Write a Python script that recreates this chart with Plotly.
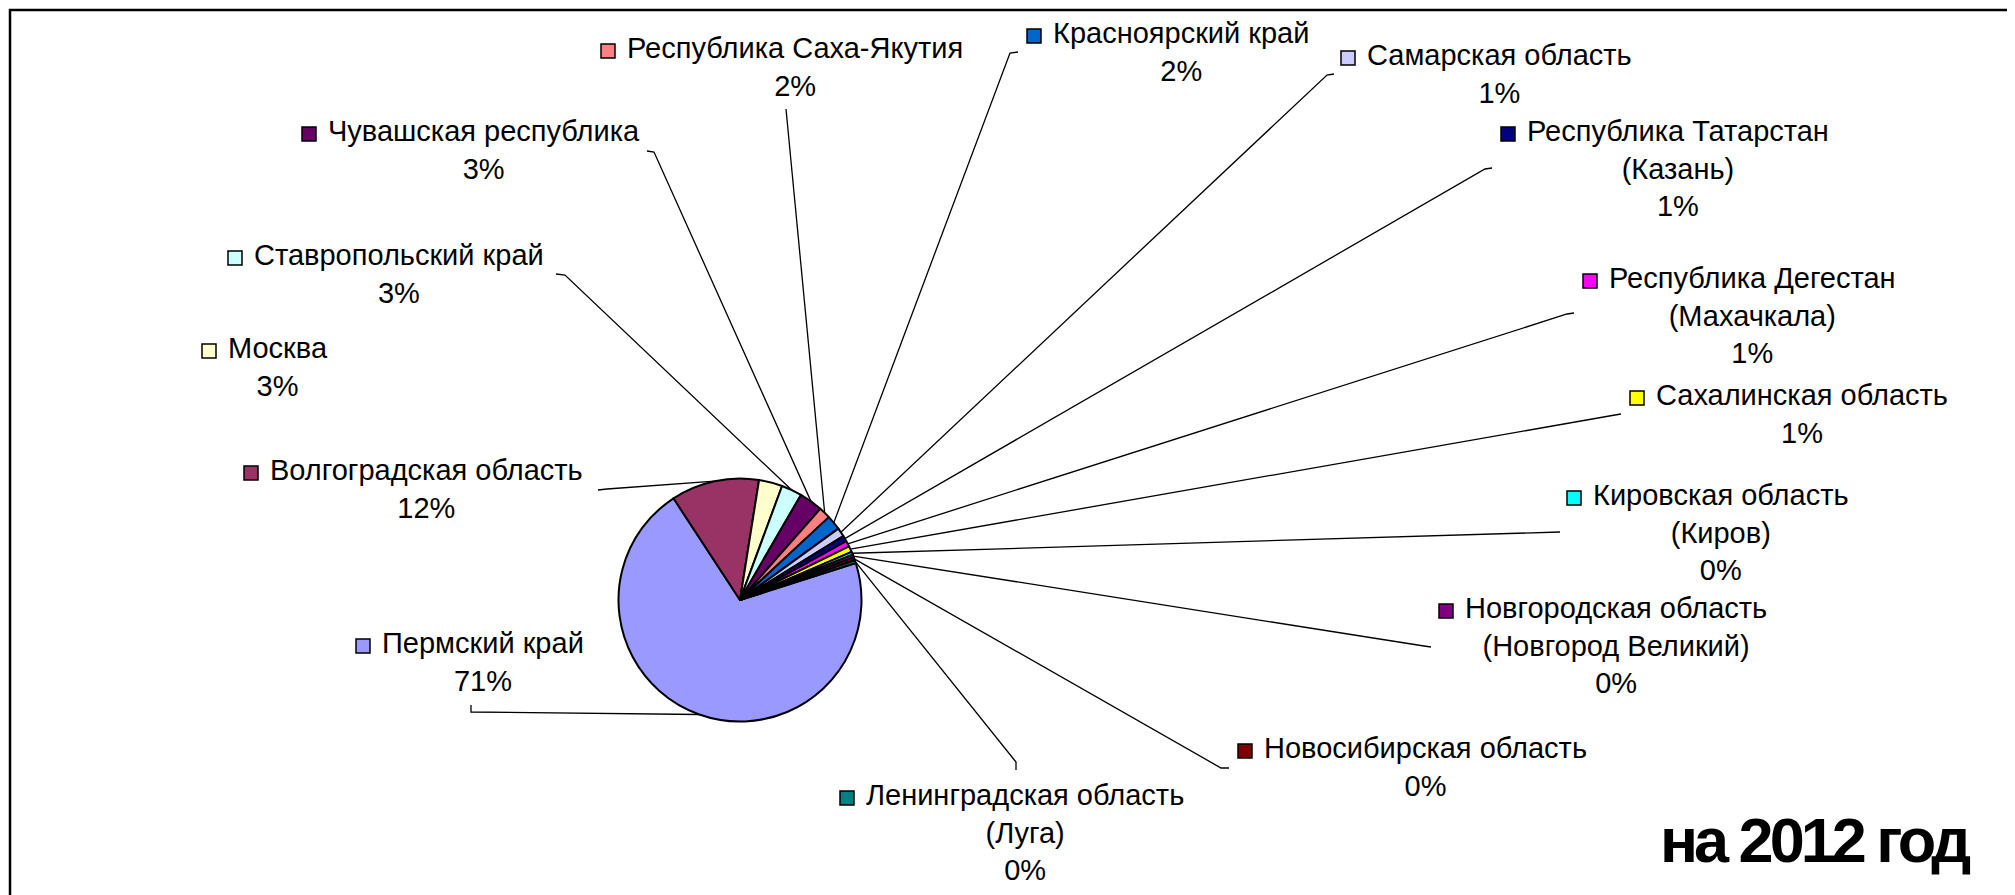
import math
import plotly.graph_objects as go

# ---------------- data ----------------
regions = [
    "Пермский край",
    "Волгоградская область",
    "Москва",
    "Ставропольский край",
    "Чувашская республика",
    "Республика Саха-Якутия",
    "Красноярский край",
    "Самарская область",
    "Республика Татарстан\n(Казань)",
    "Республика Дегестан\n(Махачкала)",
    "Сахалинская область",
    "Кировская область\n(Киров)",
    "Новгородская область\n(Новгород Великий)",
    "Новосибирская область",
    "Ленинградская область\n(Луга)",
]
counts = [181, 30, 8, 7, 8, 4, 5, 3, 2, 2, 2, 1, 1, 1, 1]
colors = [
    "#9999FF", "#993366", "#FFFFCC", "#CCFFFF", "#660066", "#FF8080",
    "#0066CC", "#CCCCFF", "#000080", "#FF00FF", "#FFFF00", "#00FFFF",
    "#800080", "#800000", "#008080",
]
year_caption = "на 2012 год"

# ---------------- layout constants (page pixels) ----------------
PAGE_W, PAGE_H = 2015, 895
OFF = 8                      # default body margin of the html page
W, H = PAGE_W - OFF, PAGE_H - OFF
PIE_CX, PIE_CY, PIE_R = 740, 600, 121.5
ROTATION = 72.3
FONT = "Liberation Sans, Arial, sans-serif"
FS = 29

# label anchor: (left x of first text line, centre y of first line)
label_pos = [
    (382, 645), (270, 472), (228, 350), (254, 257), (328, 133),
    (627, 50), (1053, 35), (1367, 57), (1527, 133), (1609, 280),
    (1656, 397), (1593, 497), (1465, 610), (1264, 750), (866, 797),
]
# leader line points on the label side (label end first), None = no leader
leader_pts = [
    [(471, 705), (471, 712)],
    [(598, 490), (607, 489)],
    None,
    [(556, 274), (565, 275)],
    [(647, 151), (654, 152)],
    [(786, 109)],
    [(1018, 52), (1010, 53)],
    [(1334, 74), (1327, 75)],
    [(1492, 168), (1485, 169)],
    [(1574, 313), (1567, 314)],
    [(1621, 414), (1615, 415)],
    [(1560, 532)],
    [(1431, 647), (1424, 646)],
    [(1229, 768), (1221, 768)],
    [(1016, 770), (1016, 762)],
]

total = sum(counts)

fig = go.Figure()

# leader lines, from label to the slice's mid-angle point on the rim
cum = 0
for i, v in enumerate(counts):
    start = ROTATION + 360.0 * cum / total
    mid = math.radians(start + 180.0 * v / total)
    cum += v
    if leader_pts[i] is None:
        continue
    px = PIE_CX + PIE_R * math.sin(mid)
    py = PIE_CY - PIE_R * math.cos(mid)
    xs = [p[0] for p in leader_pts[i]] + [px]
    ys = [p[1] for p in leader_pts[i]] + [py]
    fig.add_trace(go.Scatter(x=xs, y=ys, mode="lines",
                             line=dict(color="black", width=1.3),
                             hoverinfo="skip", showlegend=False))

fig.add_trace(go.Pie(
    labels=[r.replace("\n", " ") for r in regions],
    values=counts,
    sort=False,
    direction="clockwise",
    rotation=ROTATION,
    textinfo="none",
    marker=dict(colors=colors, line=dict(color="black", width=2)),
    domain=dict(x=[(PIE_CX - PIE_R - OFF) / W, (PIE_CX + PIE_R - OFF) / W],
                y=[1 - (PIE_CY + PIE_R - OFF) / H, 1 - (PIE_CY - PIE_R - OFF) / H]),
    showlegend=False,
))

shapes = [dict(type="rect", xref="x", yref="y", x0=10, y0=10, x1=PAGE_W + 20, y1=PAGE_H + 20,
               line=dict(color="black", width=2.5), fillcolor="rgba(0,0,0,0)", layer="above")]
annotations = []
for i, v in enumerate(counts):
    lx, ly = label_pos[i]
    pct = int(v * 100.0 / total + 0.5)
    text = regions[i].replace("\n", "<br>") + "<br>" + f"{pct}%"
    annotations.append(dict(x=lx - 2, y=ly - 20, xref="x", yref="y", text=text,
                            showarrow=False, xanchor="left", yanchor="top", align="center",
                            font=dict(family=FONT, size=FS, color="black")))
    shapes.append(dict(type="rect", xref="x", yref="y", x0=lx - 26, x1=lx - 12,
                       y0=ly - 6, y1=ly + 8, fillcolor=colors[i],
                       line=dict(color="black", width=1.5), layer="above"))

annotations.append(dict(x=1658, y=840, xref="x", yref="y",
                        text=f"<span style='letter-spacing:-4px'><b>{year_caption}</b></span>",
                        showarrow=False, xanchor="left", yanchor="middle",
                        font=dict(family="Liberation Sans Narrow, Arial Narrow, Liberation Sans, Arial",
                                  size=63, color="black")))

fig.update_layout(
    width=W, height=H,
    margin=dict(l=0, r=0, t=0, b=0),
    paper_bgcolor="white", plot_bgcolor="white",
    xaxis=dict(range=[OFF, PAGE_W], visible=False, fixedrange=True, domain=[0, 1]),
    yaxis=dict(range=[PAGE_H, OFF], visible=False, fixedrange=True, domain=[0, 1]),
    shapes=shapes, annotations=annotations,
)

fig.write_html("out.html")
